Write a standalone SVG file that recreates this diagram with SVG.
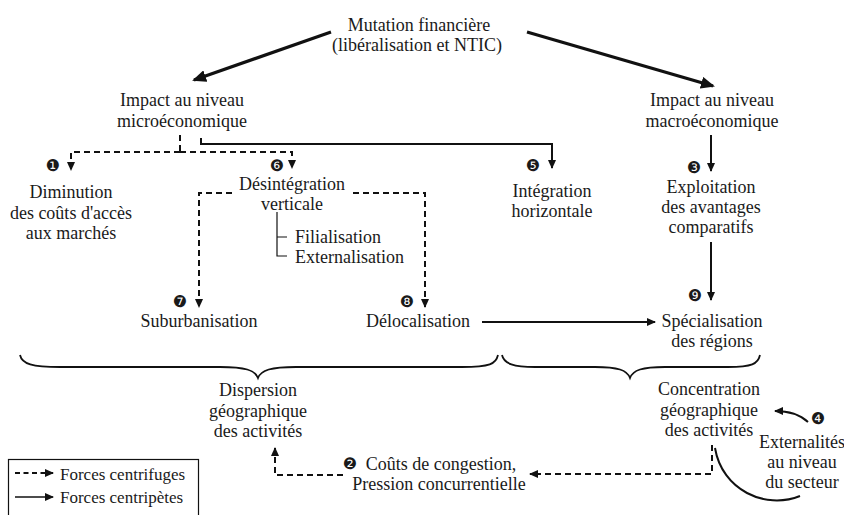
<svg xmlns="http://www.w3.org/2000/svg" width="844" height="515" viewBox="0 0 844 515">
<style>
.tx text{font-family:'Liberation Serif','DejaVu Serif',serif;font-size:18px;fill:#1a1a1a}
.tx .c{text-anchor:middle}
.tx .n{font-family:'DejaVu Sans',sans-serif;font-size:16px;text-anchor:middle;dominant-baseline:central}
.tx .l{font-size:17px}
.s{fill:none;stroke:#111;stroke-width:2}
.d{fill:none;stroke:#111;stroke-width:2;stroke-dasharray:6 4}
.t{fill:none;stroke:#111;stroke-width:3.2}
.b{fill:none;stroke:#111;stroke-width:1.8}
.k{fill:none;stroke:#111;stroke-width:1.2}
</style>
<defs>
<marker id="a" markerUnits="userSpaceOnUse" markerWidth="9" markerHeight="8" refX="8" refY="4" orient="auto"><path d="M0,0 L9,4 L0,8 z" fill="#111"/></marker>
<marker id="A" markerUnits="userSpaceOnUse" markerWidth="14" markerHeight="12" refX="12" refY="6" orient="auto"><path d="M0,0 L14,6 L0,12 z" fill="#111"/></marker>
</defs>

<g id="connectors">
<path class="t" d="M331,32 L194,80" marker-end="url(#A)"/>
<path class="t" d="M527,32 L713,86" marker-end="url(#A)"/>
<path class="d" d="M180,135 V152"/>
<path class="d" d="M180,152 H292 V168" marker-end="url(#a)"/>
<path class="d" d="M180,152 H71 V170" marker-end="url(#a)"/>
<path class="s" d="M201,138 V144 H552 V168" marker-end="url(#a)"/>
<path class="s" d="M711,135 V171" marker-end="url(#a)"/>
<path class="s" d="M711,242 V300" marker-end="url(#a)"/>
<path class="d" d="M232,193 H199 V307" marker-end="url(#a)"/>
<path class="d" d="M353,193 H425 V307" marker-end="url(#a)"/>
<path class="s" d="M482,322 H655" marker-end="url(#a)"/>
<path class="d" d="M343,475 H275 V448" marker-end="url(#a)"/>
<path class="d" d="M712,445 V474 H530" marker-end="url(#a)"/>
<path class="s" d="M808,422 Q796,411 775,411" marker-end="url(#a)"/>
<path class="s" d="M715,448 C722,490 765,510 800,496"/>
<path class="k" d="M277,212 V256 H287 M277,237 H287"/>
<path class="b" d="M20,355 C22,364 32,367 60,367 L220,367 C245,367 255,370 258,378 C261,370 271,367 296,367 L462,367 C490,367 496,364 498,355"/>
<path class="b" d="M502,355 C504,364 514,367 535,367 L595,367 C618,367 627,370 630,378 C633,370 642,367 665,367 L728,367 C752,367 758,364 760,355"/>
</g>

<g class="tx" font-family="Liberation Serif, serif">
<g id="mutation"><text class="c" x="419" y="31">Mutation financière</text><text class="c" x="417" y="51">(libéralisation et NTIC)</text></g>
<g id="micro"><text class="c" x="182" y="106">Impact au niveau</text><text class="c" x="182" y="127">microéconomique</text></g>
<g id="macro"><text class="c" x="712" y="106">Impact au niveau</text><text class="c" x="712" y="127">macroéconomique</text></g>
<g id="diminution"><text class="n" x="53" y="165">❶</text><text class="c" x="71" y="198">Diminution</text><text class="c" x="71" y="218.5">des coûts d'accès</text><text class="c" x="71" y="239">aux marchés</text></g>
<g id="desintegration"><text class="n" x="277" y="165">❻</text><text class="c" x="292" y="190">Désintégration</text><text class="c" x="292" y="210">verticale</text><text x="295" y="243">Filialisation</text><text x="295" y="263">Externalisation</text></g>
<g id="integration"><text class="n" x="533" y="165">❺</text><text class="c" x="552" y="197">Intégration</text><text class="c" x="552" y="217">horizontale</text></g>
<g id="exploitation"><text class="n" x="694" y="167">❸</text><text class="c" x="711" y="193">Exploitation</text><text class="c" x="711" y="213">des avantages</text><text class="c" x="711" y="233">comparatifs</text></g>
<g id="suburbanisation"><text class="n" x="180" y="301">❼</text><text class="c" x="199" y="327">Suburbanisation</text></g>
<g id="delocalisation"><text class="n" x="407" y="301">❽</text><text class="c" x="418" y="327">Délocalisation</text></g>
<g id="specialisation"><text class="n" x="695" y="295">❾</text><text class="c" x="712" y="327">Spécialisation</text><text class="c" x="712" y="347">des régions</text></g>
<g id="dispersion"><text class="c" x="258" y="396">Dispersion</text><text class="c" x="258" y="416.5">géographique</text><text class="c" x="258" y="437">des activités</text></g>
<g id="concentration"><text class="c" x="709" y="395">Concentration</text><text class="c" x="709" y="415.5">géographique</text><text class="c" x="709" y="436">des activités</text></g>
<g id="externalites"><text class="n" x="818" y="418">❹</text><text class="c" x="802" y="448">Externalités</text><text class="c" x="802" y="468">au niveau</text><text class="c" x="802" y="488">du secteur</text></g>
<g id="congestion"><text class="n" x="350" y="463">❷</text><text class="c" x="441" y="470">Coûts de congestion,</text><text class="c" x="439" y="490">Pression concurrentielle</text></g>
<g id="legend">
<rect x="8.5" y="459.5" width="190" height="70" fill="none" stroke="#111" stroke-width="1.2"/>
<path class="d" d="M15,473 H53" marker-end="url(#a)" style="stroke-dasharray:5 3.5"/>
<path class="s" d="M15,497 H53" marker-end="url(#a)" style="stroke-width:1.5"/>
<text class="l" x="60" y="480">Forces centrifuges</text>
<text class="l" x="60" y="503">Forces centripètes</text>
</g>
</g>
</svg>
